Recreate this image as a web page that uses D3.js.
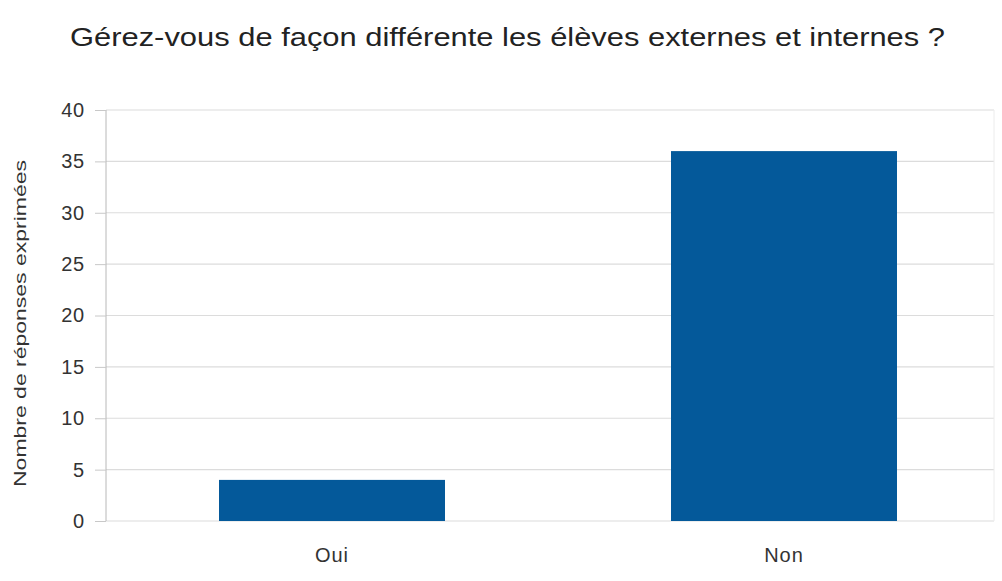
<!DOCTYPE html>
<html><head><meta charset="utf-8">
<script src="https://cdn.jsdelivr.net/npm/d3@7"></script>
<style>body{margin:0;background:#fff}svg{display:block}text{font-family:"Liberation Sans",Arial,sans-serif}</style>
</head><body><svg id="c" width="1002" height="581"></svg>
<script>
const categories = ["Oui", "Non"];
const values = [4, 36];
const yTicks = [0, 5, 10, 15, 20, 25, 30, 35, 40];
const title = "Gérez-vous de façon différente les élèves externes et internes ?";
const yLabel = "Nombre de réponses exprimées";

(function () {
const svg = d3.select("#c");
const pL = 106, pR = 994, pT = 110, pB = 521;
const x = d3.scaleBand().domain(categories).range([106, 1010]).padding(0);
const y = d3.scaleLinear().domain([0, 40]).range([pB, pT]);

// gridlines
svg.append("g").selectAll("line").data(yTicks).join("line")
  .attr("x1", pL).attr("x2", pR)
  .attr("y1", d => y(d)).attr("y2", d => y(d))
  .attr("stroke", "#dcdcdc").attr("stroke-width", 1.2);
svg.append("line").attr("x1", pR).attr("x2", pR).attr("y1", pT).attr("y2", pB)
  .attr("stroke", "#ececec");

// y axis
const ya = svg.append("g").attr("transform", `translate(${pL},0)`)
  .call(d3.axisLeft(y).tickValues(yTicks).tickSize(11).tickPadding(10));
ya.select(".domain").attr("stroke", "#b8b8b8").attr("d", `M0,${pT}V${pB}`);
ya.selectAll(".tick line").attr("stroke", "#c8c8c8");
ya.selectAll("text").attr("font-size", 20).attr("fill", "#333")
  .attr("letter-spacing", 0.8)
  .style("font-family", '"Liberation Sans",Arial,sans-serif');

// bars
const bw = x.bandwidth() * 0.5;
svg.append("g").selectAll("rect").data(values).join("rect")
  .attr("x", (d, i) => x(categories[i]) + (x.bandwidth() - bw) / 2)
  .attr("width", bw)
  .attr("y", d => y(d))
  .attr("height", d => y(0) - y(d))
  .attr("fill", "#04599a");

// x labels
svg.append("g").selectAll("text").data(categories).join("text")
  .attr("x", d => x(d) + x.bandwidth() / 2).attr("y", 562)
  .attr("text-anchor", "middle").attr("font-size", 20).attr("fill", "#333")
  .attr("letter-spacing", 1)
  .text(d => d);

// title
svg.append("text").attr("x", 70).attr("y", 46)
  .attr("font-size", 26).attr("fill", "#222")
  .attr("textLength", 875).attr("lengthAdjust", "spacingAndGlyphs").text(title);

// y label
svg.append("text").attr("transform", `translate(26,487) rotate(-90)`)
  .attr("font-size", 16).attr("fill", "#333")
  .attr("textLength", 327).attr("lengthAdjust", "spacingAndGlyphs").text(yLabel);
})();
</script></body></html>
